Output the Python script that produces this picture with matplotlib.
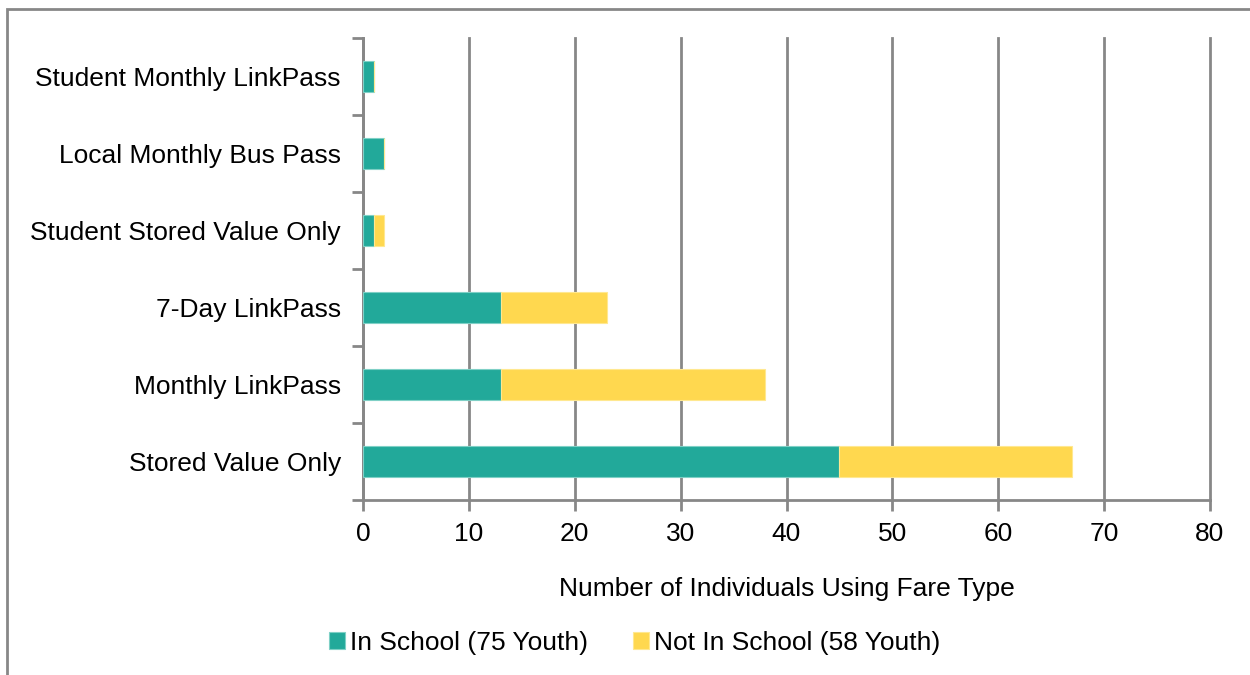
import numpy as np
import matplotlib.pyplot as plt
from matplotlib.patches import Rectangle
from matplotlib.ticker import FixedLocator

plt.rcParams['font.family'] = ['Liberation Sans', 'DejaVu Sans']

categorias = ["Stored Value Only", "Monthly LinkPass", "7-Day LinkPass",
              "Student Stored Value Only", "Local Monthly Bus Pass",
              "Student Monthly LinkPass"]
em_escola = [45, 13, 13, 1, 2, 1]
fora_escola = [22, 25, 10, 1, 0, 0]

cor_verde = "#22A99A"
cor_amarela = "#FFD84F"
cinza = "#878787"
fs = 19

fig = plt.figure(figsize=(12.5, 6.75), dpi=100)
ax = fig.add_axes([0.2904, 0.2593, 0.968 - 0.2904, 0.9437 - 0.2593])

y = np.arange(len(categorias))
ax.barh(y, em_escola, height=0.4, color=cor_verde, edgecolor="#7fd0c6",
        linewidth=0.8, label="In School (75 Youth)", zorder=3)
ax.barh(y, fora_escola, left=em_escola, height=0.4, color=cor_amarela,
        edgecolor="#ffe890", linewidth=0.8, label="Not In School (58 Youth)", zorder=3)

ax.set_xlim(0, 80)
ax.set_ylim(-0.5, len(categorias) - 0.5)
ax.set_xticks(np.arange(0, 81, 10))
ax.set_yticks(y)
ax.set_yticklabels(categorias)
ax.yaxis.set_minor_locator(FixedLocator(np.arange(-0.5, len(categorias), 1)))
ax.tick_params(axis='y', which='major', length=0, pad=16, labelsize=fs)
ax.tick_params(axis='y', which='minor', length=8, width=2, color=cinza)
ax.tick_params(axis='x', length=8, width=2, color=cinza, labelsize=fs, pad=8)

ax.grid(axis='x', color=cinza, linewidth=2, zorder=0)
for linha in ax.get_xgridlines():
    linha.set_clip_on(False)
for lado in ['top', 'right']:
    ax.spines[lado].set_visible(False)
for lado in ['left', 'bottom']:
    ax.spines[lado].set_color(cinza)
    ax.spines[lado].set_linewidth(2)

ax.set_xlabel("Number of Individuals Using Fare Type", fontsize=fs, labelpad=22)

fig.legend(loc='center', bbox_to_anchor=(0.508, 0.048), ncol=2, frameon=False,
           fontsize=fs, handlelength=0.6, handleheight=0.6, handletextpad=0.2,
           columnspacing=1.7)

# borda externa
fig.patches.append(Rectangle((7 / 1250, -0.1), 1.2, 1 - 9 / 675 + 0.1,
                             transform=fig.transFigure, fill=False,
                             edgecolor=cinza, linewidth=2))

fig.savefig("out.png", dpi=100)
